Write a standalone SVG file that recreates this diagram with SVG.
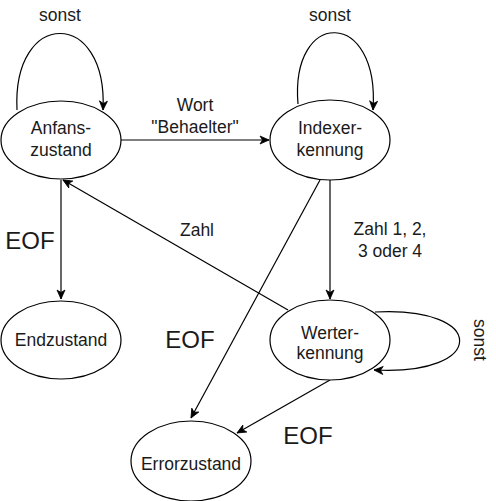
<svg xmlns="http://www.w3.org/2000/svg" width="496" height="501" viewBox="0 0 496 501">
<defs>
<style>
.node{fill:#fff;stroke:#000;stroke-width:1.2}
.t{font-family:"Liberation Sans",Arial,sans-serif;font-size:17.5px;fill:#1a1a1a;text-anchor:middle}
.big{font-size:24px}
.edge{fill:none;stroke:#000;stroke-width:1.2}
</style>
<marker id="arr" viewBox="-10 -5 11 10" refX="0" refY="0" markerWidth="11" markerHeight="10" markerUnits="userSpaceOnUse" orient="auto">
<path d="M-9,-4 L0,0 L-9,4 L-6.5,0 Z" fill="#000" stroke="#000" stroke-width="0.8"/>
</marker>
</defs>
<rect width="496" height="501" fill="#fff"/>
<g id="connectors">
<path class="edge" d="M17,110 C12,8 108,8 103,110" marker-end="url(#arr)"/>
<path class="edge" d="M298,104 C290,8 380,8 373,110" marker-end="url(#arr)"/>
<path class="edge" d="M121,140 L269,140" marker-end="url(#arr)"/>
<path class="edge" d="M61,180 L61,299" marker-end="url(#arr)"/>
<path class="edge" d="M288,310 L63,180" marker-end="url(#arr)"/>
<path class="edge" d="M330,180 L330,299" marker-end="url(#arr)"/>
<path class="edge" d="M320,180 L191,418" marker-end="url(#arr)"/>
<path class="edge" d="M330,380 L237,433" marker-end="url(#arr)"/>
<path class="edge" d="M375,312 C488,306 488,376 374,370" marker-end="url(#arr)"/>
</g>
<g id="labels">
<text class="t" x="60" y="21">sonst</text>
<text class="t" x="330" y="21">sonst</text>
<text class="t" x="195" y="111">Wort</text>
<text class="t" x="195" y="133">"Behaelter"</text>
<text class="t big" x="30" y="249">EOF</text>
<text class="t" x="197" y="236">Zahl</text>
<text class="t big" x="190" y="348">EOF</text>
<text class="t" x="390" y="235">Zahl 1, 2,</text>
<text class="t" x="390" y="257">3 oder 4</text>
<text class="t" transform="translate(474,340) rotate(90)" x="0" y="0">sonst</text>
<text class="t big" x="308" y="444">EOF</text>
</g>
<g id="anfangszustand">
<ellipse class="node" cx="61" cy="140" rx="60" ry="39"/>
<text class="t" x="61" y="134">Anfans-</text>
<text class="t" x="61" y="156">zustand</text>
</g>
<g id="indexerkennung">
<ellipse class="node" cx="330" cy="140" rx="60" ry="40"/>
<text class="t" x="330" y="134">Indexer-</text>
<text class="t" x="330" y="156">kennung</text>
</g>
<g id="endzustand">
<ellipse class="node" cx="61" cy="340" rx="60" ry="39"/>
<text class="t" x="61" y="346">Endzustand</text>
</g>
<g id="werterkennung">
<ellipse class="node" cx="330" cy="340" rx="60" ry="40"/>
<text class="t" x="330" y="339">Werter-</text>
<text class="t" x="330" y="359">kennung</text>
</g>
<g id="errorzustand">
<ellipse class="node" cx="191" cy="461" rx="60" ry="40"/>
<text class="t" x="191" y="470">Errorzustand</text>
</g>
</svg>
